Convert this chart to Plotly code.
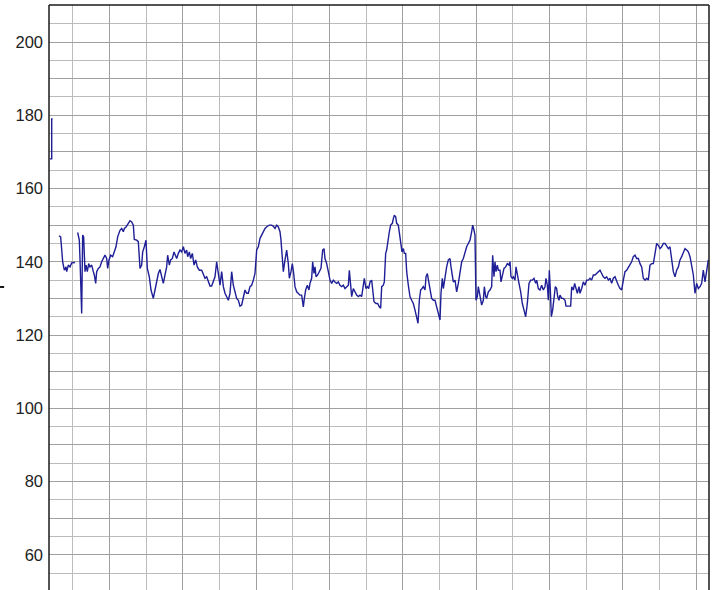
import plotly.graph_objects as go

# Fetal heart rate trace (bpm) vs time (minutes); None marks signal loss
time_min = [
    0.37, 0.424, 0.424, 0.45, None,
    0.623, 0.668, 0.723, 0.768, 0.814, 0.832, 0.877, 0.923, 0.968, 1.059, None,
    1.132, 1.177, 1.195, 1.241, 1.268, 1.295, 1.332, 1.359, 1.395, 1.432,
    1.468, 1.514, 1.559, 1.586, 1.623, 1.650, 1.695, 1.741, 1.786, 1.832,
    1.877, 1.923, 1.950, 1.986, 2.032, 2.086, 2.123, 2.177, 2.223, 2.259,
    2.286, 2.332, 2.377, 2.405, 2.450, 2.514, 2.559, 2.605, 2.650, 2.677,
    2.741, 2.786, 2.814, 2.832, 2.877, 2.905, 2.950, 2.995, 3.032, 3.086,
    3.132, 3.195, 3.241, 3.286, 3.332, 3.377, 3.423, 3.468, 3.514, 3.559,
    3.586, 3.632, 3.668, 3.714, 3.759, 3.805, 3.832, 3.877, 3.923, 3.968,
    4.014, 4.059, 4.105, 4.132, 4.177, 4.214, 4.259, 4.305, 4.350, 4.395,
    4.450, 4.514, 4.559, 4.605, 4.650, 4.695, 4.741, 4.786, 4.832, 4.877,
    4.923, 4.968, 5.014, 5.059, 5.105, 5.150, 5.195, 5.241, 5.286, 5.332,
    5.377, 5.423, 5.468, 5.514, 5.559, 5.605, 5.650, 5.695, 5.741, 5.786,
    5.832, 5.877, 5.923, 5.968, 6.014, 6.059,
    6.105, 6.150, 6.195, 6.241, 6.305, 6.359, 6.423, 6.468, 6.514, 6.559,
    6.605, 6.650, 6.677, 6.714, 6.741, 6.786, 6.832, 6.877, 6.905, 6.950,
    6.986, 7.023, 7.059, 7.105, 7.150, 7.195, 7.241, 7.268, 7.286, 7.314,
    7.350, 7.395, 7.441, 7.468, 7.514, 7.541, 7.577, 7.605, 7.632, 7.677,
    7.723, 7.768, 7.814, 7.850, 7.877, 7.923, 7.968, 8.014, 8.059, 8.105,
    8.150, 8.195, 8.241, 8.286, 8.332, 8.377, 8.423, 8.468, 8.514, 8.541,
    8.577, 8.605, 8.650, 8.695, 8.741, 8.786, 8.832, 8.877, 8.923, 8.950,
    8.995, 9.032, 9.068, 9.105, 9.150, 9.177, 9.214, 9.268, 9.314, 9.359,
    9.395, 9.423, 9.468, 9.495, 9.532, 9.559, 9.605, 9.632, 9.668, 9.714,
    9.741, 9.768, 9.805, 9.832, 9.877, 9.905, 9.941, 9.977, 10.014, 10.041,
    10.077, 10.105, 10.150, 10.195, 10.241, 10.286, 10.332, 10.377, 10.414, 10.450,
    10.486, 10.523, 10.559, 10.605, 10.632, 10.668, 10.705, 10.741, 10.786, 10.832,
    10.877, 10.923, 10.968, 11.014, 11.041, 11.077, 11.105, 11.150, 11.195, 11.241,
    11.286, 11.314, 11.350, 11.377, 11.423, 11.468, 11.514, 11.559, 11.605, 11.650,
    11.695, 11.741, 11.786, 11.832, 11.877, 11.905, 11.941, 11.968, 11.995, 12.032,
    12.059,
    12.105, 12.150, 12.195, 12.223, 12.259, 12.286, 12.332, 12.377, 12.423, 12.450,
    12.486, 12.514, 12.541, 12.577, 12.605, 12.650, 12.677, 12.714, 12.759, 12.805,
    12.850, 12.895, 12.923, 12.950, 12.986, 13.014, 13.059, 13.086, 13.123, 13.168,
    13.214, 13.259, 13.305, 13.350, 13.395, 13.441, 13.486, 13.532, 13.577, 13.623,
    13.650, 13.695, 13.741, 13.786, 13.832, 13.877, 13.905, 13.941, 13.968, 13.995,
    14.023, 14.050, 14.086, 14.123, 14.159, 14.195, 14.223, 14.259, 14.286, 14.332,
    14.377, 14.423, 14.450, 14.514, 14.577, 14.605, 14.650, 14.686, 14.723, 14.759,
    14.805, 14.832, 14.877, 14.923, 14.968, 15.014, 15.059, 15.105, 15.150, 15.195,
    15.241, 15.286, 15.332, 15.377, 15.423, 15.468, 15.514, 15.559, 15.605, 15.650,
    15.695, 15.741, 15.786, 15.832, 15.877, 15.923, 15.968, 16.014, 16.059, 16.105,
    16.150, 16.195, 16.241, 16.286, 16.332, 16.377, 16.423, 16.468, 16.514, 16.559,
    16.605, 16.650, 16.695, 16.741, 16.786, 16.832, 16.877, 16.923, 16.968, 17.014,
    17.059, 17.105, 17.150, 17.195, 17.241, 17.286, 17.332, 17.377, 17.423, 17.468,
    17.514, 17.559, 17.605, 17.650, 17.695, 17.741, 17.786, 17.832, 17.877, 17.923,
    17.968, 18.014, 18.059, 18.105, 18.150, 18.195, 18.241, 18.286, 18.332,
]

heart_rate_bpm = [
    168.1, 168.1, 179.0, 179.0, None,
    147.1, 146.8, 140.0, 137.7, 138.6, 137.3, 139.1, 138.6, 139.7, 139.8, None,
    148.0, 145.9, 140.9, 125.9, 147.3, 146.8, 137.3, 139.1, 137.3, 139.5,
    138.6, 139.1, 137.3, 136.4, 134.1, 137.3, 138.2, 138.6, 140.0, 140.9,
    141.8, 140.9, 138.2, 140.5, 141.8, 141.4, 142.3, 144.1, 146.8, 148.2,
    148.6, 149.1, 148.2, 149.1, 149.5, 150.5, 151.2, 150.9, 150.0, 146.1,
    145.9, 145.5, 142.3, 138.2, 139.1, 142.7, 144.1, 145.9, 138.2, 135.9,
    132.3, 130.0, 132.3, 135.0, 136.8, 137.9, 135.9, 134.1, 136.4, 138.6,
    141.8, 139.1, 140.5, 140.9, 142.7, 141.8, 140.9, 142.3, 143.2, 142.7,
    144.1, 142.3, 143.2, 141.4, 142.7, 140.9, 142.3, 139.1, 140.5, 138.6,
    137.7, 137.7, 136.8, 135.5, 135.9, 134.5, 133.4, 133.4, 134.5, 135.9,
    140.0, 136.8, 133.6, 137.3, 133.2, 131.4, 130.5, 129.5, 131.4, 137.3,
    133.6, 131.4, 130.0, 129.5, 127.9, 128.2, 130.5, 132.3, 131.4, 131.4,
    133.2, 133.6, 135.0, 136.8, 143.2, 144.1,
    146.4, 147.3, 148.2, 149.1, 149.7, 150.0, 150.0, 149.7, 149.1, 150.0,
    149.5, 148.2, 145.9, 138.6, 137.3, 140.5, 143.2, 139.5, 135.5, 137.3,
    139.5, 136.8, 133.2, 131.8, 131.4, 130.9, 130.9, 129.5, 127.7, 130.0,
    132.3, 133.6, 132.3, 134.1, 135.5, 140.0, 136.8, 138.6, 135.9, 136.4,
    137.3, 138.2, 143.2, 143.6, 140.9, 139.5, 137.3, 135.0, 134.1, 135.0,
    134.5, 134.1, 134.5, 133.6, 133.2, 133.6, 132.7, 133.2, 133.6, 137.7,
    132.7, 130.5, 132.7, 131.8, 130.9, 130.5, 130.9, 130.5, 133.6, 135.5,
    132.7, 133.2, 132.7, 134.5, 135.0, 132.3, 129.1, 128.6, 128.6, 127.7,
    127.3, 133.2, 133.6, 134.5, 142.3, 143.2, 146.8, 148.2, 150.0, 150.5,
    151.8, 152.7, 152.3, 150.5, 150.0, 147.7, 145.0, 142.7, 143.6, 142.3,
    142.3, 137.3, 133.6, 130.5, 129.5, 128.6, 126.8, 124.5, 123.2, 129.5,
    132.3, 132.7, 133.2, 132.3, 135.9, 136.8, 134.5, 131.8, 130.0, 129.5,
    129.5, 127.7, 125.5, 124.1, 131.4, 135.5, 132.7, 135.9, 138.6, 140.5,
    140.9, 138.6, 135.9, 134.5, 135.0, 131.8, 134.1, 137.7, 140.0, 140.9,
    142.7, 144.1, 145.0, 145.9, 148.2, 150.0, 148.6, 147.3, 129.5, 130.5,
    133.2,
    130.5, 128.2, 129.5, 133.2, 130.5, 130.0, 131.8, 132.3, 133.2, 141.8,
    135.9, 140.0, 137.3, 139.1, 137.7, 137.7, 134.5, 136.4, 138.2, 138.6,
    139.5, 139.1, 140.0, 135.9, 135.5, 135.9, 135.0, 138.6, 135.9, 134.1,
    131.8, 128.6, 126.8, 125.0, 128.6, 134.1, 135.0, 135.0, 135.5, 134.1,
    135.0, 132.7, 132.3, 133.6, 132.3, 133.2, 135.5, 133.6, 129.5, 137.7,
    132.3, 125.0, 126.8, 130.5, 133.2, 132.7, 130.5, 129.5, 130.9, 130.0,
    130.0, 129.5, 127.9, 127.9, 127.9, 133.2, 132.3, 134.1, 132.7, 131.4,
    133.2, 131.4, 132.7, 134.5, 133.6, 135.0, 135.0, 135.5, 135.0, 136.4,
    136.4, 136.8, 137.3, 137.7, 136.8, 135.9, 135.5, 135.9, 135.0, 135.5,
    134.1, 135.5, 135.9, 134.5, 133.6, 132.7, 132.3, 135.0, 137.3, 137.7,
    138.6, 139.1, 140.0, 141.4, 141.8, 140.9, 140.9, 139.5, 138.6, 135.5,
    135.0, 135.5, 135.0, 139.1, 139.5, 139.5, 142.3, 145.0, 144.5, 143.6,
    144.1, 145.0, 145.0, 144.1, 143.6, 144.1, 140.5, 137.3, 135.9, 137.7,
    138.6, 140.5, 141.4, 142.7, 143.6, 143.2, 142.7, 141.4, 139.1, 136.4,
    131.4, 134.1, 132.7, 133.2, 134.1, 137.7, 134.5, 137.3, 140.5,
]

y_tick_values = [60, 70, 80, 90, 100, 110, 120, 130, 140, 150, 160, 170, 180, 190, 200]
y_tick_labels = ["60", "", "80", "", "100", "", "120", "", "140", "", "160", "", "180", "", "200"]

fig = go.Figure()
fig.add_trace(go.Scatter(
    x=time_min, y=heart_rate_bpm, mode="lines",
    line=dict(color="#1e1e96", width=1.4),
    connectgaps=False, hoverinfo="skip", showlegend=False,
))

fig.update_layout(
    width=716, height=590,
    margin=dict(l=49, r=7, t=5, b=0),
    paper_bgcolor="white", plot_bgcolor="white",
    font=dict(family="Liberation Sans, Arial, sans-serif", size=16.5, color="#222222"),
    xaxis=dict(
        range=[0.35, 18.35], tick0=0, dtick=2,
        showticklabels=False, ticks="", zeroline=False, showline=False,
        showgrid=True, gridcolor="#a0a0a0", gridwidth=1,
        minor=dict(dtick=1, tick0=0, showgrid=True, gridcolor="#bcbcbc", gridwidth=1),
    ),
    yaxis=dict(
        range=[50.4, 210.1], tickmode="array",
        tickvals=y_tick_values, ticktext=y_tick_labels,
        ticks="", ticklabelstandoff=5, zeroline=False, showline=False,
        showgrid=True, gridcolor="#a0a0a0", gridwidth=1,
        minor=dict(dtick=5, tick0=0, showgrid=True, gridcolor="#bcbcbc", gridwidth=1),
    ),
)

# plot frame: left, right, top
for x0, y0, x1, y1 in [(0, 0, 0, 1), (1, 0, 1, 1), (0, 1, 1, 1)]:
    fig.add_shape(type="line", xref="paper", yref="paper", x0=x0, y0=y0, x1=x1, y1=y1,
                  line=dict(color="#1a1a1a", width=1.5), layer="above")
# small dash left of the axis labels
fig.add_shape(type="line", xref="paper", yref="paper", x0=-0.0742, x1=-0.068, y0=0.518, y1=0.518,
              line=dict(color="#111111", width=2))

fig.write_html(
    "out.html",
    config={"displayModeBar": False, "staticPlot": True},
    post_script="document.body.style.margin='0';document.body.style.overflow='hidden';",
)
